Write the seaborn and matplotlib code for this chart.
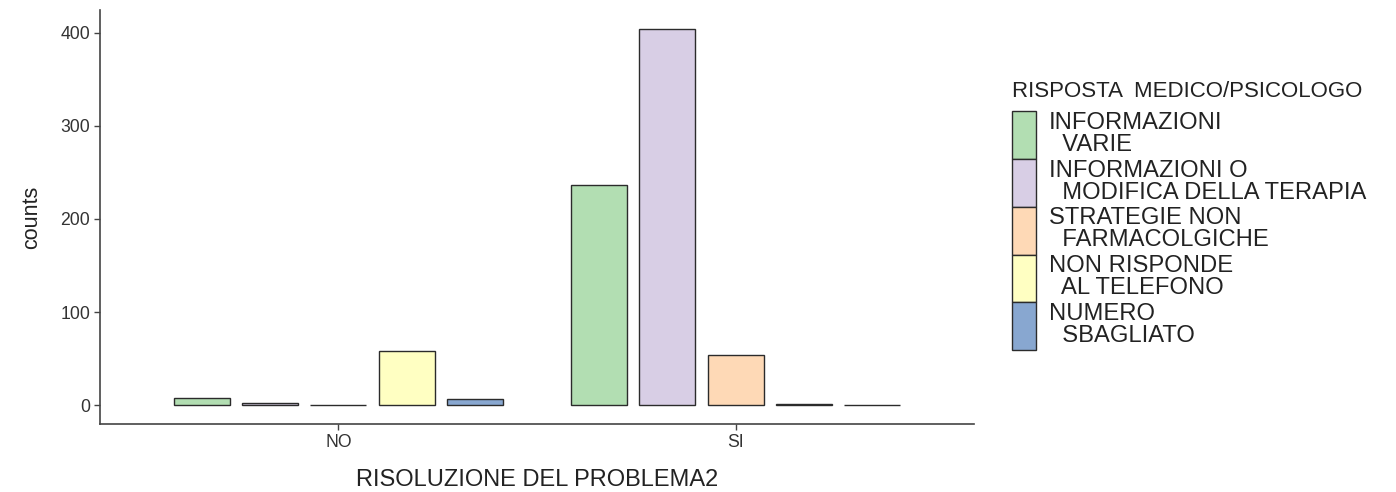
import matplotlib
matplotlib.use("Agg")
import matplotlib.pyplot as plt
import pandas as pd
import seaborn as sns

# dati
risoluzione = ["NO", "SI"]
risposte = ["INFORMAZIONI\n  VARIE",
            "INFORMAZIONI O\n  MODIFICA DELLA TERAPIA",
            "STRATEGIE NON\n  FARMACOLGICHE",
            "NON RISPONDE\n  AL TELEFONO",
            "NUMERO\n  SBAGLIATO"]
counts_no = [8, 2, 0, 58, 7]
counts_si = [236, 404, 54, 1, 0]
colori = ["#B2DEB2", "#D8CEE5", "#FED9B6", "#FFFFC2", "#88A7D0"]

df = pd.DataFrame({
    "RISOLUZIONE DEL PROBLEMA2": ["NO"] * 5 + ["SI"] * 5,
    "RISPOSTA": risposte * 2,
    "counts": counts_no + counts_si,
})

sns.set_style("white")
plt.rcParams["font.family"] = ["Liberation Sans", "DejaVu Sans"]

fig = plt.figure(figsize=(13.96, 4.92), dpi=100)
ax = fig.add_axes([100 / 1396, 68 / 492, 874 / 1396, 414 / 492])

sns.barplot(data=df, x="RISOLUZIONE DEL PROBLEMA2", y="counts", hue="RISPOSTA",
            order=risoluzione, hue_order=risposte, palette=colori,
            width=0.86, gap=0.18, edgecolor="#2b2b2b", linewidth=1.0,
            saturation=1, ax=ax)

ax.set_xlim(-0.6, 1.6)
ax.set_ylim(-20.2, 424.2)
ax.set_yticks([0, 100, 200, 300, 400])
ax.tick_params(axis="both", labelsize=12.7, colors="#444444", length=4,
               width=1, direction="out", bottom=True, left=True, pad=3)
ax.tick_params(axis="both", labelcolor="#333333")
ax.set_xlabel("RISOLUZIONE DEL PROBLEMA2", fontsize=17, color="#222222", labelpad=13)
ax.set_ylabel("counts", fontsize=15.5, color="#222222", labelpad=13)
for s in ["top", "right"]:
    ax.spines[s].set_visible(False)
for s in ["left", "bottom"]:
    ax.spines[s].set_color("#444444")
    ax.spines[s].set_linewidth(1.2)

fs = 17.1
leg = ax.legend(title="RISPOSTA  MEDICO/PSICOLOGO", loc="upper left",
                bbox_to_anchor=(1.0435, 0.828), frameon=False, fontsize=fs,
                title_fontsize=16, handlelength=1.0, handleheight=2.72,
                handletextpad=0.54, labelspacing=0.0, borderaxespad=0,
                borderpad=0)
leg._legend_box.align = "left"
leg._legend_box.sep = 6.5  # spazio tra titolo e voci
for t in leg.get_texts():
    t.set_linespacing(1.0)
    t.set_color("#222222")
leg.get_title().set_color("#222222")
for h in leg.legend_handles:
    h.set_edgecolor("#2b2b2b")
    h.set_linewidth(1.0)

fig.savefig("out.png", dpi=100)
